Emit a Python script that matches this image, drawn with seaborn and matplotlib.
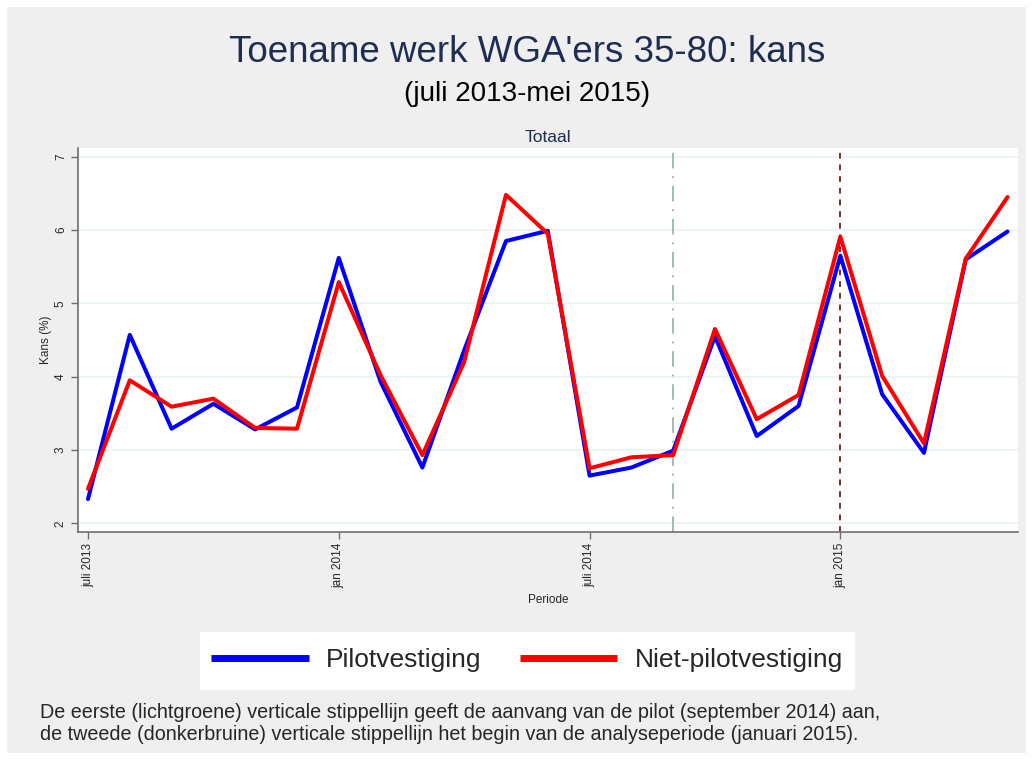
import matplotlib
matplotlib.use("Agg")
import matplotlib.pyplot as plt
import seaborn as sns
import pandas as pd
from matplotlib.patches import Rectangle

months = ["juli 2013", "aug 2013", "sep 2013", "okt 2013", "nov 2013", "dec 2013",
          "jan 2014", "feb 2014", "mrt 2014", "apr 2014", "mei 2014", "jun 2014",
          "juli 2014", "aug 2014", "sep 2014", "okt 2014", "nov 2014", "dec 2014",
          "jan 2015", "feb 2015", "mrt 2015", "apr 2015", "mei 2015"]
pilot = [2.33, 4.57, 3.29, 3.63, 3.28, 3.58, 5.62, 3.93, 2.76, 4.36, 5.85, 5.99,
         2.65, 2.76, 2.99, 4.55, 3.19, 3.60, 5.65, 3.76, 2.96, 5.60, 5.98]
niet_pilot = [2.47, 3.95, 3.59, 3.70, 3.30, 3.29, 5.29, 4.02, 2.93, 4.20, 6.48, 5.95,
              2.75, 2.90, 2.93, 4.65, 3.42, 3.75, 5.91, 4.01, 3.09, 5.61, 6.45]
series_names = ["Pilotvestiging", "Niet-pilotvestiging"]
tick_labels = ["juli 2013", "jan 2014", "juli 2014", "jan 2015"]
y_ticks = [2, 3, 4, 5, 6, 7]
pilot_start = "sep 2014"
analysis_start = "jan 2015"

n = len(months)
df = pd.DataFrame({
    "t": list(range(n)) * 2,
    "Kans": pilot + niet_pilot,
    "Groep": [series_names[0]] * n + [series_names[1]] * n,
})

sns.set_style("white")
plt.rcParams["font.family"] = ["Liberation Sans", "DejaVu Sans"]

fig = plt.figure(figsize=(10.33, 7.6), dpi=100)
fig.patch.set_facecolor("white")
bg = "#efefef"
fig.patches.append(Rectangle((7 / 1033, 7 / 760), 1019 / 1033, 746 / 760,
                             transform=fig.transFigure, facecolor=bg,
                             edgecolor="none", zorder=-10))

ax = fig.add_axes([78 / 1033, 1 - 531.7 / 760, 940 / 1033, 383.4 / 760])
ax.set_facecolor("white")

sns.lineplot(data=df, x="t", y="Kans", hue="Groep", hue_order=series_names,
             palette=["#0000ff", "#ff0000"], linewidth=2.9, ax=ax, legend=False,
             zorder=3)

ax.axvline(months.index(pilot_start), color="#9dbdb3", lw=1.4,
           linestyle=(0, (8, 4, 1, 4)), zorder=2)
ax.axvline(months.index(analysis_start), color="#7a2e2e", lw=1.4,
           linestyle=(0, (3, 3)), zorder=2)

ax.set_xlim(-0.239, 22.25)
ax.set_ylim(1.885, 7.115)
ax.set_yticks(y_ticks)
ax.set_yticklabels([str(v) for v in y_ticks], rotation=90, va="center",
                   fontsize=8.5)
ax.set_xticks([months.index(m) for m in tick_labels])
ax.set_xticklabels(tick_labels, rotation=90, fontsize=8.5)
for y in y_ticks:
    ax.axhline(y, color="#eaf2f3", lw=1.2, zorder=1)

for s in ["top", "right"]:
    ax.spines[s].set_visible(False)
for s in ["left", "bottom"]:
    ax.spines[s].set_color("#6e6e6e")
    ax.spines[s].set_linewidth(1.2)
ax.tick_params(axis="both", direction="out", length=5, width=1,
               color="#6e6e6e", pad=3, left=True, bottom=True)

ax.set_xlabel("Periode", fontsize=8.5, labelpad=4)
ax.set_ylabel("Kans (%)", fontsize=8.5, labelpad=2)

cx = 527 / 1033
fig.text(cx, 1 - 52 / 760, "Toename werk WGA'ers 35-80: kans", ha="center",
         va="center", fontsize=26.5, color="#1e2d52")
fig.text(cx, 1 - 94 / 760, "(juli 2013-mei 2015)", ha="center", va="center",
         fontsize=20, color="black")
fig.text(548 / 1033, 1 - 137 / 760, "Totaal", ha="center", va="center",
         fontsize=12.5, color="#1e2d52")

# legend box
fig.patches.append(Rectangle((200 / 1033, 1 - 690 / 760), 655 / 1033, 58 / 760,
                             transform=fig.transFigure, facecolor="white",
                             edgecolor="none", zorder=1))
handles = [plt.Line2D([], [], color="#0000ff", lw=5, solid_capstyle="butt"),
           plt.Line2D([], [], color="#ff0000", lw=5, solid_capstyle="butt")]
leg = fig.legend(handles, series_names, loc="center",
                 bbox_to_anchor=(527 / 1033, 1 - 660 / 760), ncol=2,
                 frameon=False, handlelength=3.7, columnspacing=1.45,
                 handletextpad=0.65, prop={"size": 19})

fig.text(40 / 1033, 1 - 712 / 760,
         "De eerste (lichtgroene) verticale stippellijn geeft de aanvang van de pilot (september 2014) aan,",
         ha="left", va="center", fontsize=14.2)
fig.text(40 / 1033, 1 - 735 / 760,
         "de tweede (donkerbruine) verticale stippellijn het begin van de analyseperiode (januari 2015).",
         ha="left", va="center", fontsize=14.2)

fig.savefig("out.png", dpi=100, facecolor=fig.get_facecolor())
